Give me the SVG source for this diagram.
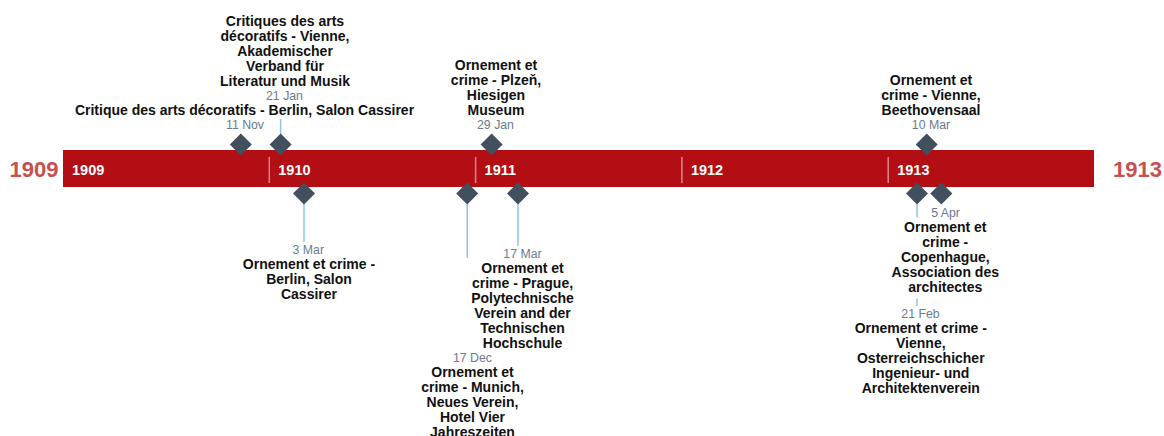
<svg xmlns="http://www.w3.org/2000/svg" width="1164" height="436" viewBox="0 0 1164 436">
<style>
.bar{fill:#b20e14}
.sep{stroke:#ffffff;stroke-opacity:0.5;stroke-width:1.5}
.yr{font-family:"Liberation Sans",Arial,sans-serif;font-weight:bold;font-size:14.5px;fill:#ffffff}
.outer{font-family:"Liberation Sans",Arial,sans-serif;font-weight:bold;font-size:22px;fill:#c9504f}
.dia{fill:#424f5e}
.conn{stroke:#8ec5e8;stroke-width:1.5;fill:none}
.date{font-family:"Liberation Sans",Arial,sans-serif;font-size:12.3px;fill:#6b7a92;text-anchor:middle}
.lbl{font-family:"Liberation Sans",Arial,sans-serif;font-weight:bold;font-size:14px;fill:#111111;text-anchor:middle}
</style>
<defs>
<path id="dm" d="M0,-11 L11,0 L0,11 L-11,0 Z"/>
</defs>
<g id="axis">
<rect class="bar" x="63" y="150" width="1031" height="37"/>
<line class="sep" x1="269.3" y1="157" x2="269.3" y2="183"/>
<line class="sep" x1="475.6" y1="157" x2="475.6" y2="183"/>
<line class="sep" x1="681.9" y1="157" x2="681.9" y2="183"/>
<line class="sep" x1="888.2" y1="157" x2="888.2" y2="183"/>
<text class="yr" x="72" y="174.5">1909</text>
<text class="yr" x="278.3" y="174.5">1910</text>
<text class="yr" x="484.6" y="174.5">1911</text>
<text class="yr" x="690.9" y="174.5">1912</text>
<text class="yr" x="897.2" y="174.5">1913</text>
<text class="outer" x="58.5" y="177" text-anchor="end">1909</text>
<text class="outer" x="1113" y="177">1913</text>
</g>
<g id="connectors">
<line class="conn" x1="280.6" y1="119" x2="280.6" y2="134"/>
<line class="conn" x1="304" y1="204" x2="304" y2="242"/>
<line class="conn" x1="467.2" y1="204" x2="467.2" y2="258"/>
<line class="conn" x1="518" y1="204" x2="518" y2="246"/>
<line class="conn" x1="917" y1="204" x2="917" y2="217.5"/>
<line class="conn" x1="917" y1="298.5" x2="917" y2="306"/>
</g>
<g id="ev-1909-11-11">
<use href="#dm" class="dia" x="240.8" y="144.5"/>
<text class="date" x="245" y="129">11 Nov</text>
<text class="lbl" x="244.5" y="114.5">Critique des arts décoratifs - Berlin, Salon Cassirer</text>
</g>
<g id="ev-1910-01-21">
<use href="#dm" class="dia" x="280.6" y="144.5"/>
<text class="date" x="284.5" y="100">21 Jan</text>
<text class="lbl" x="285" y="25"><tspan x="285" y="25.5">Critiques des arts</tspan><tspan x="285" y="40.5">décoratifs - Vienne,</tspan><tspan x="285" y="55.5">Akademischer</tspan><tspan x="285" y="70.5">Verband für</tspan><tspan x="285" y="85.5">Literatur und Musik</tspan></text>
</g>
<g id="ev-1910-03-03">
<use href="#dm" class="dia" x="304" y="193.5"/>
<text class="date" x="308.3" y="253.5">3 Mar</text>
<text class="lbl"><tspan x="309" y="268.5">Ornement et crime -</tspan><tspan x="309" y="283.5">Berlin, Salon</tspan><tspan x="309" y="298.5">Cassirer</tspan></text>
</g>
<g id="ev-1910-12-17">
<use href="#dm" class="dia" x="467.2" y="193.5"/>
<text class="date" x="472.5" y="361.5">17 Dec</text>
<text class="lbl"><tspan x="472.5" y="376.5">Ornement et</tspan><tspan x="472.5" y="391.5">crime - Munich,</tspan><tspan x="472.5" y="406.5">Neues Verein,</tspan><tspan x="472.5" y="421.5">Hotel Vier</tspan><tspan x="472.5" y="436.5">Jahreszeiten</tspan></text>
</g>
<g id="ev-1911-01-29">
<use href="#dm" class="dia" x="491.6" y="144.5"/>
<text class="date" x="495.5" y="129">29 Jan</text>
<text class="lbl"><tspan x="496" y="69.5">Ornement et</tspan><tspan x="496" y="84.5">crime - Plzeň,</tspan><tspan x="496" y="99.5">Hiesigen</tspan><tspan x="496" y="114.5">Museum</tspan></text>
</g>
<g id="ev-1911-03-17">
<use href="#dm" class="dia" x="518" y="193.5"/>
<text class="date" x="522.5" y="257.5">17 Mar</text>
<text class="lbl"><tspan x="522.5" y="272.5">Ornement et</tspan><tspan x="522.5" y="287.5">crime - Prague,</tspan><tspan x="522.5" y="302.5">Polytechnische</tspan><tspan x="522.5" y="317.5">Verein and der</tspan><tspan x="522.5" y="332.5">Technischen</tspan><tspan x="522.5" y="347.5">Hochschule</tspan></text>
</g>
<g id="ev-1913-02-21">
<use href="#dm" class="dia" x="917" y="193.5"/>
<text class="date" x="920.5" y="317.5">21 Feb</text>
<text class="lbl"><tspan x="920.8" y="333">Ornement et crime -</tspan><tspan x="920.8" y="348">Vienne,</tspan><tspan x="920.8" y="363">Osterreichschicher</tspan><tspan x="920.8" y="378">Ingenieur- und</tspan><tspan x="920.8" y="393">Architektenverein</tspan></text>
</g>
<g id="ev-1913-03-10">
<use href="#dm" class="dia" x="926.7" y="144.5"/>
<text class="date" x="931" y="128.5">10 Mar</text>
<text class="lbl"><tspan x="931" y="84.5">Ornement et</tspan><tspan x="931" y="99.5">crime - Vienne,</tspan><tspan x="931" y="114.5">Beethovensaal</tspan></text>
</g>
<g id="ev-1913-04-05">
<use href="#dm" class="dia" x="941.3" y="193.5"/>
<text class="date" x="945.5" y="216.5">5 Apr</text>
<text class="lbl"><tspan x="945.3" y="232">Ornement et</tspan><tspan x="945.3" y="247">crime -</tspan><tspan x="945.3" y="262">Copenhague,</tspan><tspan x="945.3" y="277">Association des</tspan><tspan x="945.3" y="292">architectes</tspan></text>
</g>
</svg>
